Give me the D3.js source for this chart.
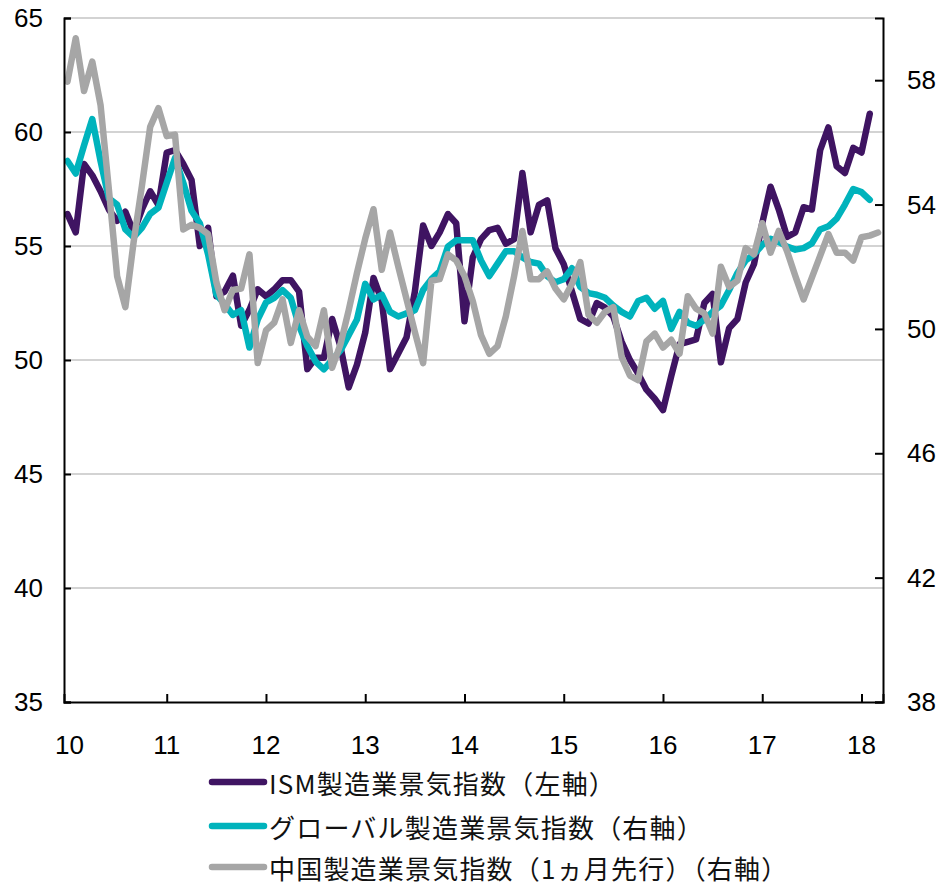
<!DOCTYPE html>
<html>
<head>
<meta charset="utf-8">
<script src="https://cdn.jsdelivr.net/npm/d3@7"></script>
<style>
  html, body { margin: 0; padding: 0; background: #ffffff; }
  svg { display: block; }
</style>
</head>
<body>
<svg id="chart" width="939" height="887"></svg>
<script>
// Year tick labels (Jan of each year, 2010–2018)
const yearLabels = ["10", "11", "12", "13", "14", "15", "16", "17", "18"];
const leftTicks = [35, 40, 45, 50, 55, 60, 65];
const rightTicks = [38, 42, 46, 50, 54, 58];

// Monthly readings from Jan 2010
const ismValues = [
  56.4, 55.6, 58.6, 58.1, 57.4, 56.6, 56.1, 56.5, 55.6, 56.6, 57.4, 56.8,
  59.1, 59.2, 58.6, 57.9, 55.0, 55.8, 52.8, 53.0, 53.7, 51.5, 52.2, 53.1,
  52.8, 53.1, 53.5, 53.5, 53.0, 49.6, 50.1, 50.1, 51.8, 50.6, 48.8, 49.8,
  51.2, 53.6, 52.6, 49.6, 50.3, 51.0, 53.0, 55.9, 55.0, 55.6, 56.4, 56.0,
  51.7, 54.5, 55.3, 55.7, 55.8, 55.1, 55.3, 58.2, 55.6, 56.8, 57.0, 54.9,
  54.2, 53.0, 51.8, 51.6, 52.5, 52.3, 51.9, 50.8, 50.0, 49.4, 48.7, 48.3,
  47.8, 49.3, 50.7, 50.8, 50.9, 52.5, 52.9, 49.9, 51.4, 51.8, 53.4, 54.2,
  56.0, 57.6, 56.6, 55.4, 55.6, 56.7, 56.6, 59.2, 60.2, 58.5, 58.2, 59.3,
  59.1, 60.8
];

const globalValues = [
  55.4, 55.0, 55.9, 56.75, 55.4, 54.2, 54.0, 53.2, 52.95, 53.25, 53.7, 53.9,
  54.7, 55.5, 54.7, 53.8, 53.4, 52.4, 51.1, 50.8, 50.45, 50.6, 49.4, 50.3,
  50.85, 51.0, 51.25, 51.0, 50.1, 49.45, 48.95, 48.7, 49.0, 49.3, 49.8, 50.3,
  51.45, 50.95, 51.1, 50.55, 50.4, 50.5, 50.6, 51.25, 51.6, 51.85, 52.65, 52.85,
  52.85, 52.85, 52.2, 51.7, 52.1, 52.5, 52.5, 52.3, 52.15, 52.1, 51.7, 51.5,
  51.6, 51.95, 51.35, 51.15, 51.1, 51.0, 50.75, 50.55, 50.4, 50.9, 51.0, 50.65,
  50.9, 50.0, 50.55, 50.2, 50.1, 50.3, 50.55, 50.75, 51.25, 51.8, 52.2, 52.4,
  52.7, 52.9, 52.8, 52.65, 52.55, 52.6, 52.75, 53.2, 53.3, 53.55, 54.0, 54.5,
  54.4, 54.15
];

// China series is shifted one month forward (1-month lead)
const chinaValues = [
  57.95, 59.35, 57.65, 58.6, 57.2, 54.5, 51.7, 50.7, 52.8, 54.6, 56.5, 57.1,
  56.2, 56.25, 53.2, 53.35, 53.25, 53.05, 51.5, 50.6, 51.25, 51.3, 52.4, 48.9,
  49.95, 50.2, 50.95, 49.55, 50.6, 49.75, 49.45, 50.6, 48.75, 49.5, 50.6, 51.8,
  52.9, 53.85, 51.9, 53.1, 52.0, 50.95, 49.9, 48.9, 51.55, 51.6, 52.4, 52.2,
  51.7, 50.9, 49.8, 49.2, 49.45, 50.4, 51.7, 53.15, 51.6, 51.6, 51.85, 51.3,
  50.95, 51.45, 52.15, 50.45, 50.2, 50.55, 50.7, 49.1, 48.5, 48.35, 49.6, 49.85,
  49.4, 49.65, 49.2, 51.05, 50.65, 50.5, 49.85, 52.0, 51.35, 51.55, 52.6, 52.4,
  53.4, 52.45, 53.15, 52.5, 51.7, 50.95, 51.65, 52.35, 53.05, 52.45, 52.45, 52.2,
  52.95, 53.0, 53.1
];

const seriesNames = [
  "ISM製造業景気指数（左軸）",
  "グローバル製造業景気指数（右軸）",
  "中国製造業景気指数（1ヵ月先行）（右軸）"
];
const seriesColors = ["#3f1462", "#00b3bc", "#a6a6a6"];

const svg = d3.select("#chart");

const plot = { left: 64, right: 883, top: 18, bottom: 702 };

const x = d3.scaleLinear().domain([-0.42, 98.6]).range([plot.left, plot.right]);
const yLeft = d3.scaleLinear().domain([35, 65]).range([plot.bottom, plot.top]);
const yRight = d3.scaleLinear().domain([38, 60]).range([plot.bottom, plot.top]);

const tickFont = "'Liberation Sans Narrow', 'Liberation Sans', Arial, sans-serif";

// Horizontal gridlines at left-axis ticks
svg.append("g")
  .selectAll("line")
  .data(leftTicks.filter(v => v > 35))
  .join("line")
  .attr("x1", plot.left).attr("x2", plot.right)
  .attr("y1", d => yLeft(d)).attr("y2", d => yLeft(d))
  .attr("stroke", "#c4c4c4")
  .attr("stroke-width", 1.5);

// Series lines
const lineLeft = d3.line().x((d, i) => x(i)).y(d => yLeft(d)).curve(d3.curveLinear);
const lineRight = d3.line().x((d, i) => x(i)).y(d => yRight(d)).curve(d3.curveLinear);

const series = [
  { values: ismValues, gen: lineLeft, color: seriesColors[0] },
  { values: globalValues, gen: lineRight, color: seriesColors[1] },
  { values: chinaValues, gen: lineRight, color: seriesColors[2] }
];

svg.append("g")
  .selectAll("path")
  .data(series)
  .join("path")
  .attr("d", d => d.gen(d.values))
  .attr("fill", "none")
  .attr("stroke", d => d.color)
  .attr("stroke-width", 6.5)
  .attr("stroke-linejoin", "round")
  .attr("stroke-linecap", "round");

// Left axis
const leftAxis = d3.axisRight(yLeft).tickValues(leftTicks).tickSize(7).tickFormat("");
const gL = svg.append("g").attr("transform", `translate(${plot.left},0)`).call(leftAxis);
gL.select(".domain").attr("stroke", "#000").attr("stroke-width", 2);
gL.selectAll(".tick line").attr("stroke", "#000").attr("stroke-width", 2);

svg.append("g")
  .selectAll("text")
  .data(leftTicks)
  .join("text")
  .attr("x", 43)
  .attr("y", d => yLeft(d))
  .attr("text-anchor", "end")
  .attr("dominant-baseline", "central")
  .attr("font-family", tickFont)
  .attr("font-size", 26)
  .attr("fill", "#000")
  .text(d => d);

// Right axis
const rightAxis = d3.axisLeft(yRight).tickValues(rightTicks).tickSize(8).tickFormat("");
const gR = svg.append("g").attr("transform", `translate(${plot.right},0)`).call(rightAxis);
gR.select(".domain").attr("stroke", "#000").attr("stroke-width", 2);
gR.selectAll(".tick line").attr("stroke", "#000").attr("stroke-width", 2);

svg.append("g")
  .selectAll("text")
  .data(rightTicks)
  .join("text")
  .attr("x", 907)
  .attr("y", d => yRight(d))
  .attr("text-anchor", "start")
  .attr("dominant-baseline", "central")
  .attr("font-family", tickFont)
  .attr("font-size", 26)
  .attr("fill", "#000")
  .text(d => d);

// Bottom axis
const yearPositions = yearLabels.map((d, i) => i * 12);
const bottomAxis = d3.axisTop(x).tickValues(yearPositions.slice(1)).tickSize(8).tickFormat("");
const gB = svg.append("g").attr("transform", `translate(0,${plot.bottom})`).call(bottomAxis);
gB.select(".domain").attr("stroke", "#000").attr("stroke-width", 2);
gB.selectAll(".tick line").attr("stroke", "#000").attr("stroke-width", 2);

svg.append("g")
  .selectAll("text")
  .data(yearLabels)
  .join("text")
  .attr("x", (d, i) => x(i * 12) + (i === 0 ? 2 : 0))
  .attr("y", 745)
  .attr("text-anchor", "middle")
  .attr("dominant-baseline", "central")
  .attr("font-family", tickFont)
  .attr("font-size", 26)
  .attr("fill", "#000")
  .text(d => d);

// Legend
const legendRows = [782, 826, 867];
const legend = svg.append("g")
  .selectAll("g")
  .data(seriesNames)
  .join("g")
  .attr("transform", (d, i) => `translate(0,${legendRows[i]})`);

legend.append("line")
  .attr("x1", 212).attr("x2", 264)
  .attr("y1", 0).attr("y2", 0)
  .attr("stroke", (d, i) => seriesColors[i])
  .attr("stroke-width", 6.5)
  .attr("stroke-linecap", "round");

legend.append("text")
  .attr("x", 269)
  .attr("y", 0)
  .attr("dominant-baseline", "central")
  .attr("font-family", "'Noto Sans CJK JP', 'Noto Sans', sans-serif")
  .attr("font-size", 26)
  .attr("letter-spacing", 1.2)
  .attr("fill", "#111")
  .text(d => d);
</script>
</body>
</html>
